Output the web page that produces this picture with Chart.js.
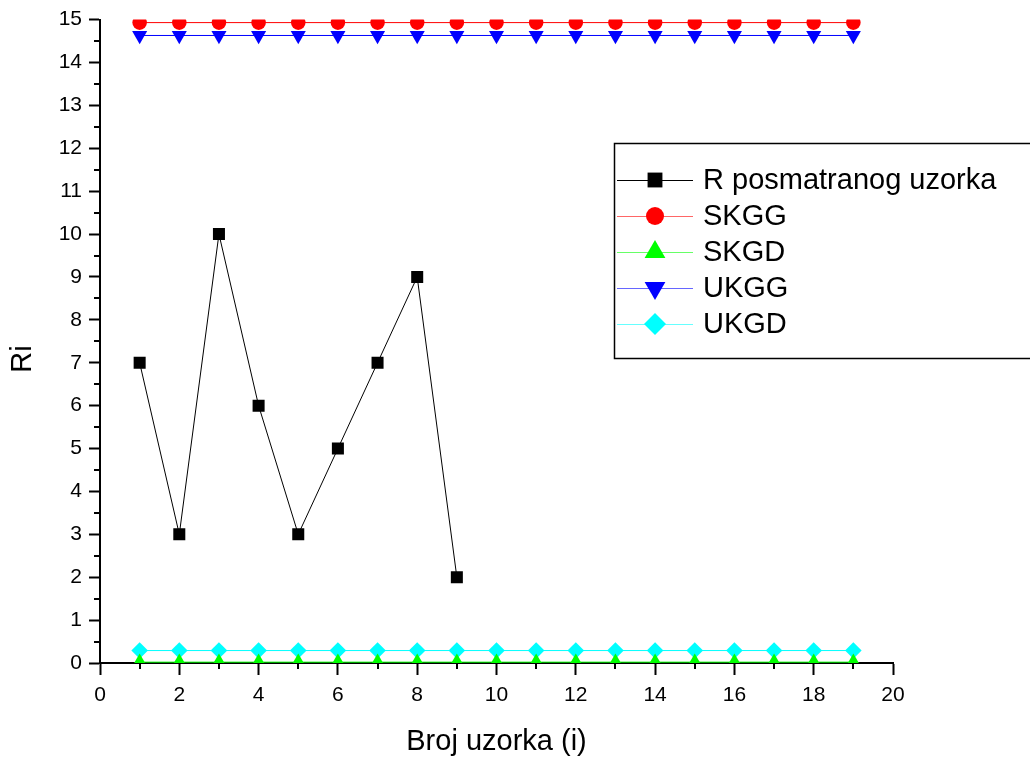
<!DOCTYPE html>
<html>
<head>
<meta charset="utf-8">
<script src="https://cdn.jsdelivr.net/npm/chart.js@4"></script>
<style>
  html, body { margin: 0; padding: 0; background: #fff; }
  #wrap { width: 1030px; height: 759px; }
</style>
</head>
<body>
<div id="wrap"><canvas id="rChart" width="1030" height="759"></canvas></div>
<script>
// Data
const sampleNo = [1, 2, 3, 4, 5, 6, 7, 8, 9, 10, 11, 12, 13, 14, 15, 16, 17, 18, 19];
const rObserved = [7, 3, 10, 6, 3, 5, 7, 9, 2];
const skgg = [14.93, 14.93, 14.93, 14.93, 14.93, 14.93, 14.93, 14.93, 14.93, 14.93, 14.93, 14.93, 14.93, 14.93, 14.93, 14.93, 14.93, 14.93, 14.93];
const skgd = [0.02, 0.02, 0.02, 0.02, 0.02, 0.02, 0.02, 0.02, 0.02, 0.02, 0.02, 0.02, 0.02, 0.02, 0.02, 0.02, 0.02, 0.02, 0.02];
const ukgg = [14.63, 14.63, 14.63, 14.63, 14.63, 14.63, 14.63, 14.63, 14.63, 14.63, 14.63, 14.63, 14.63, 14.63, 14.63, 14.63, 14.63, 14.63, 14.63];
const ukgd = [0.29, 0.29, 0.29, 0.29, 0.29, 0.29, 0.29, 0.29, 0.29, 0.29, 0.29, 0.29, 0.29, 0.29, 0.29, 0.29, 0.29, 0.29, 0.29];
const seriesNames = ['R posmatranog uzorka', 'SKGG', 'SKGD', 'UKGG', 'UKGD'];
const legendRadius = [10.5, 9, 12, 12, 11];

const FONT = '"Liberation Sans", Arial, sans-serif';

function pts(ys) {
    return ys.map((y, i) => ({x: sampleNo[i], y: y}));
}

function series(label, ys, color, style, radius, rot) {
    return {
        label: label,
        data: pts(ys),
        borderColor: color,
        backgroundColor: color,
        borderWidth: 1,
        pointStyle: style,
        pointRadius: radius,
        pointHoverRadius: radius,
        pointRotation: rot || 0,
        pointBorderWidth: 0,
        tension: 0,
        clip: 0
    };
}

// minor ticks, y title and the legend box
const extras = {
    id: 'extras',
    afterDraw(chart) {
        const ctx = chart.ctx;
        const xs = chart.scales.x, ys = chart.scales.y;
        ctx.save();
        ctx.strokeStyle = '#000';
        ctx.lineWidth = 2;
        ctx.beginPath();
        for (let v = 1; v < 20; v += 2) {
            const px = Math.round(xs.getPixelForValue(v));
            ctx.moveTo(px, ys.bottom);
            ctx.lineTo(px, ys.bottom + 6);
        }
        for (let v = 0.5; v < 15; v += 1) {
            const py = Math.round(ys.getPixelForValue(v));
            ctx.moveTo(xs.left, py);
            ctx.lineTo(xs.left - 6, py);
        }
        ctx.stroke();

        // y axis title
        ctx.save();
        ctx.translate(23, 359);
        ctx.rotate(-Math.PI / 2);
        ctx.font = '29px ' + FONT;
        ctx.fillStyle = '#000';
        ctx.textAlign = 'center';
        ctx.textBaseline = 'middle';
        ctx.fillText('Ri', 0, 0);
        ctx.restore();

        // legend
        const bx = 614, by = 143, bw = 430, bh = 215;
        ctx.fillStyle = '#fff';
        ctx.fillRect(bx, by, bw, bh);
        ctx.lineWidth = 1.5;
        ctx.strokeStyle = '#000';
        ctx.strokeRect(bx + 0.5, by + 0.5, bw, bh);
        ctx.font = '29px ' + FONT;
        ctx.textBaseline = 'middle';
        chart.data.datasets.forEach((ds, i) => {
            const cy = 180 + i * 36;
            ctx.strokeStyle = ds.borderColor;
            ctx.globalAlpha = i === 0 ? 1 : 0.6;
            ctx.lineWidth = 1;
            ctx.beginPath();
            ctx.moveTo(617, cy + 0.5);
            ctx.lineTo(693, cy + 0.5);
            ctx.stroke();
            ctx.globalAlpha = 1;
            ctx.fillStyle = ds.backgroundColor;
            Chart.helpers.drawPoint(ctx, {
                pointStyle: ds.pointStyle,
                radius: legendRadius[i],
                rotation: ds.pointRotation,
                borderWidth: 0
            }, 655, cy);
            ctx.fillStyle = '#000';
            ctx.fillText(seriesNames[i], 703, cy + 1);
        });
        ctx.restore();
    }
};

new Chart(document.getElementById('rChart').getContext('2d'), {
    type: 'line',
    data: {
        datasets: [
            series(seriesNames[0], rObserved, '#000000', 'rect', 8.5),
            series(seriesNames[1], skgg, '#ff0000', 'circle', 7.3),
            series(seriesNames[2], skgd, '#00ff00', 'triangle', 8.7),
            series(seriesNames[3], ukgg, '#0000ff', 'triangle', 8.7, 180),
            series(seriesNames[4], ukgd, '#00ffff', 'rectRot', 8.3)
        ]
    },
    options: {
        responsive: false,
        animation: false,
        layout: { padding: { top: 18, right: 137, left: 0, bottom: 0 } },
        plugins: { legend: { display: false }, tooltip: { enabled: false } },
        scales: {
            x: {
                type: 'linear',
                min: 0, max: 20,
                afterFit(s) { s.height = 96; },
                ticks: { stepSize: 2, color: '#000', font: { family: FONT, size: 21 }, padding: 8, maxRotation: 0 },
                grid: { drawOnChartArea: false, drawTicks: true, tickLength: 12, tickColor: '#000', tickWidth: 2 },
                border: { display: true, color: '#000', width: 2 },
                title: { display: true, text: 'Broj uzorka (i)', color: '#000', font: { family: FONT, size: 29 }, padding: { top: 4, bottom: 0 } }
            },
            y: {
                min: 0, max: 15,
                afterFit(s) { s.width = 100; },
                ticks: { stepSize: 1, color: '#000', font: { family: FONT, size: 21 }, padding: 7 },
                grid: { drawOnChartArea: false, drawTicks: true, tickLength: 11, tickColor: '#000', tickWidth: 2 },
                border: { display: true, color: '#000', width: 2 }
            }
        }
    },
    plugins: [extras]
});
</script>
</body>
</html>
